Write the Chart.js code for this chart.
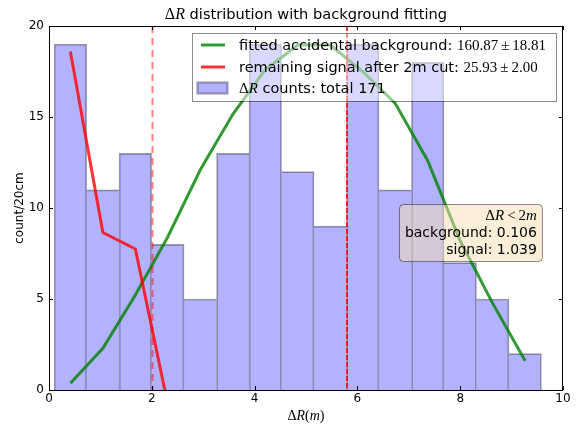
<!DOCTYPE html>
<html>
<head>
<meta charset="utf-8">
<script src="https://cdn.jsdelivr.net/npm/chart.js@4.4.1/dist/chart.umd.min.js"></script>
<style>
  html, body { margin: 0; padding: 0; background: #fff; }
  canvas { display: block; }
</style>
</head>
<body>
<canvas id="chart" width="579" height="424"></canvas>
<script>
// histogram bins (centres, width 0.632 m starting at 0.1 m)
const binCenters = [0.416, 1.048, 1.68, 2.312, 2.944, 3.576, 4.208, 4.84, 5.472, 6.104, 6.736, 7.368, 8.0, 8.632, 9.264];
const counts = [19, 11, 13, 8, 5, 13, 19, 12, 9, 19, 11, 18, 7, 5, 2];
// fitted accidental background, evaluated at the bin centres
const bgFit = [0.37, 2.29, 5.22, 8.42, 12.1, 15.15, 17.6, 18.95, 18.95, 17.5, 15.75, 12.6, 8.2, 4.76, 1.61];
// remaining signal, first four bins only
const signalX = [0.416, 1.048, 1.68, 2.312];
const signalFit = [18.6, 8.65, 7.75, -0.8];
// vertical cut lines
const cutLines = [2.0, 5.8];
const xTickValues = [0, 2, 4, 6, 8, 10];
const yTickValues = [0, 5, 10, 15, 20];

const SANS = "'DejaVu Sans', sans-serif";
const SERIF = "'Liberation Serif', serif";

// draw a row of text pieces with different fonts
function drawRuns(ctx, runs, x, y, align) {
  let total = 0;
  runs.forEach(r => { ctx.font = r.f; r.w = ctx.measureText(r.t).width; total += r.w; });
  let cx = align === 'right' ? x - total : align === 'center' ? x - total / 2 : x;
  ctx.textAlign = 'left';
  ctx.textBaseline = 'alphabetic';
  runs.forEach(r => { ctx.font = r.f; ctx.fillText(r.t, cx, y); cx += r.w; });
}

const extras = {
  id: 'extras',
  afterDatasetsDraw(chart) {
    const ctx = chart.ctx;
    const a = chart.chartArea;
    const xs = chart.scales.x;
    const ds = chart.data.datasets;

    // cut lines
    ctx.save();
    ctx.beginPath();
    ctx.rect(a.left, a.top, a.right - a.left, a.bottom - a.top);
    ctx.clip();
    cutLines.forEach((v, i) => {
      ctx.beginPath();
      let px;
      if (i === 0) {
        px = Math.round(xs.getPixelForValue(v)) + 0.5;
        ctx.strokeStyle = 'rgba(255,0,0,0.5)';
        ctx.lineWidth = 2;
        ctx.setLineDash([7, 5]);
      } else {
        px = Math.round(xs.getPixelForValue(v));
        ctx.strokeStyle = '#ff0000';
        ctx.lineWidth = 1.6;
        ctx.setLineDash([5, 2]);
      }
      ctx.moveTo(px, a.top);
      ctx.lineTo(px, a.bottom);
      ctx.stroke();
    });
    ctx.restore();

    // legend
    ctx.save();
    const lw = 364, lh = 68;
    const lx = a.right - 7 - lw, ly = a.top + 7;
    ctx.fillStyle = 'rgba(255,255,255,0.5)';
    ctx.fillRect(lx, ly, lw, lh);
    ctx.strokeStyle = 'rgba(0,0,0,0.45)';
    ctx.lineWidth = 1;
    ctx.strokeRect(lx + 0.5, ly + 0.5, lw, lh);
    const rows = [ly + 12, ly + 34, ly + 55];
    const fs = '14.5px ' + SANS;
    const fm = '15px ' + SERIF;
    const fmi = 'italic 15px ' + SERIF;
    // line handles
    [0, 1].forEach(k => {
      ctx.beginPath();
      ctx.strokeStyle = ds[k].borderColor;
      ctx.lineWidth = ds[k].borderWidth;
      ctx.moveTo(lx + 9, rows[k]);
      ctx.lineTo(lx + 33, rows[k]);
      ctx.stroke();
    });
    // bar handle
    ctx.fillStyle = ds[2].backgroundColor;
    ctx.fillRect(lx + 5, rows[2] - 6, 31, 12);
    ctx.strokeStyle = 'rgba(0,0,0,0.2)';
    ctx.strokeRect(lx + 5.5, rows[2] - 5.5, 30, 11);
    ctx.fillStyle = '#000';
    const tx = lx + 47;
    drawRuns(ctx, [{ t: 'fitted accidental background: ', f: fs }, { t: '160.87\u2009\u00b1\u200918.81', f: fm }], tx, rows[0] + 5, 'left');
    drawRuns(ctx, [{ t: 'remaining signal after 2m cut: ', f: fs }, { t: '25.93\u2009\u00b1\u20092.00', f: fm }], tx, rows[1] + 5, 'left');
    drawRuns(ctx, [{ t: '\u0394', f: fm }, { t: 'R', f: fmi }, { t: ' counts: total 171', f: fs }], tx, rows[2] + 5, 'left');
    ctx.restore();

    // text box
    ctx.save();
    const bw = 143, bh = 57;
    const bx = a.left + 0.959 * (a.right - a.left) - bw;
    const by = a.top + 0.489 * (a.bottom - a.top);
    ctx.beginPath();
    ctx.roundRect(bx + 0.5, by + 0.5, bw, bh, 4);
    ctx.fillStyle = 'rgba(245,222,179,0.5)';
    ctx.fill();
    ctx.strokeStyle = 'rgba(0,0,0,0.45)';
    ctx.lineWidth = 1;
    ctx.stroke();
    ctx.fillStyle = '#000';
    const rx = bx + bw - 5;
    drawRuns(ctx, [{ t: '\u0394', f: '15px ' + SERIF }, { t: 'R', f: 'italic 15px ' + SERIF }, { t: '\u2009<\u20092', f: '15px ' + SERIF }, { t: 'm', f: 'italic 15px ' + SERIF }], rx, by + 16, 'right');
    drawRuns(ctx, [{ t: 'background: 0.106', f: '14px ' + SANS }], rx, by + 33, 'right');
    drawRuns(ctx, [{ t: 'signal: 1.039', f: '14px ' + SANS }], rx, by + 50, 'right');
    ctx.restore();
  },
  afterDraw(chart) {
    const ctx = chart.ctx;
    const a = chart.chartArea;
    const xs = chart.scales.x, ys = chart.scales.y;
    ctx.save();
    ctx.strokeStyle = '#000';
    ctx.lineWidth = 1;
    ctx.strokeRect(a.left + 0.5, a.top + 0.5, a.right - a.left - 1, a.bottom - a.top);
    // inward ticks on all four sides
    ctx.beginPath();
    xTickValues.forEach(v => {
      const px = Math.round(xs.getPixelForValue(v)) + 0.5;
      ctx.moveTo(px, a.bottom); ctx.lineTo(px, a.bottom - 4);
      ctx.moveTo(px, a.top); ctx.lineTo(px, a.top + 4);
    });
    yTickValues.forEach(v => {
      const py = Math.round(ys.getPixelForValue(v)) + 0.5;
      ctx.moveTo(a.left, py); ctx.lineTo(a.left + 4, py);
      ctx.moveTo(a.right, py); ctx.lineTo(a.right - 4, py);
    });
    ctx.stroke();

    ctx.fillStyle = '#000';
    const cx = (a.left + a.right) / 2;
    // title
    drawRuns(ctx, [{ t: '\u0394', f: '16px ' + SERIF }, { t: 'R', f: 'italic 16px ' + SERIF }, { t: ' distribution with background fitting', f: '14.6px ' + SANS }], cx, a.top - 7, 'center');
    // x title
    drawRuns(ctx, [{ t: '\u0394', f: '14px ' + SERIF }, { t: 'R', f: 'italic 14px ' + SERIF }, { t: '(', f: '14px ' + SERIF }, { t: 'm', f: 'italic 14px ' + SERIF }, { t: ')', f: '14px ' + SERIF }], cx, a.bottom + 30, 'center');
    // y title
    ctx.translate(20, (a.top + a.bottom) / 2);
    ctx.rotate(-Math.PI / 2);
    ctx.font = '12px ' + SANS;
    ctx.textAlign = 'center';
    ctx.textBaseline = 'middle';
    ctx.fillText('count/20cm', 0, 0);
    ctx.restore();
  }
};

new Chart(document.getElementById('chart'), {
  type: 'bar',
  data: {
    datasets: [
      {
        type: 'line',
        label: 'fitted accidental background',
        data: binCenters.map((x, i) => ({ x: x, y: bgFit[i] })),
        borderColor: 'rgba(0,128,0,0.8)',
        borderWidth: 3,
        pointRadius: 0,
        tension: 0,
        clip: 0,
        order: 1
      },
      {
        type: 'line',
        label: 'remaining signal after 2m cut',
        data: signalX.map((x, i) => ({ x: x, y: signalFit[i] })),
        borderColor: 'rgba(255,0,0,0.8)',
        borderWidth: 3,
        pointRadius: 0,
        tension: 0,
        clip: 0,
        order: 0
      },
      {
        label: 'counts',
        data: binCenters.map((x, i) => ({ x: x, y: counts[i] })),
        backgroundColor: 'rgba(0,0,255,0.3)',
        borderColor: 'rgba(0,0,0,0.38)',
        borderWidth: (c) => {
          const i = c.dataIndex;
          const v = counts[i];
          const prev = i > 0 ? counts[i - 1] : -1;
          const next = i < counts.length - 1 ? counts[i + 1] : -1;
          return { top: 1, bottom: 0, left: v >= prev ? 1 : 0, right: v > next ? 1 : 0 };
        },
        borderSkipped: 'start',
        barPercentage: 1,
        categoryPercentage: 1,
        order: 2
      }
    ]
  },
  options: {
    responsive: false,
    animation: false,
    devicePixelRatio: 1,
    layout: { padding: { top: 26, right: 16, left: 0, bottom: 0 } },
    plugins: {
      legend: { display: false },
      tooltip: { enabled: false },
      title: { display: false }
    },
    scales: {
      x: {
        type: 'linear',
        min: 0,
        max: 10,
        offset: false,
        afterBuildTicks: (s) => { s.ticks = xTickValues.map(v => ({ value: v })); },
        afterFit: (s) => { s.height = 34; },
        grid: { display: false, drawTicks: false, offset: false },
        border: { display: false },
        ticks: { color: '#000', font: { family: SANS, size: 12 }, padding: 2, maxRotation: 0 }
      },
      y: {
        min: 0,
        max: 20,
        afterBuildTicks: (s) => { s.ticks = yTickValues.map(v => ({ value: v })); },
        afterFit: (s) => { s.width = 49; },
        grid: { display: false, drawTicks: false },
        border: { display: false },
        ticks: { color: '#000', font: { family: SANS, size: 12 }, padding: 5 }
      }
    }
  },
  plugins: [extras]
});
</script>
</body>
</html>
